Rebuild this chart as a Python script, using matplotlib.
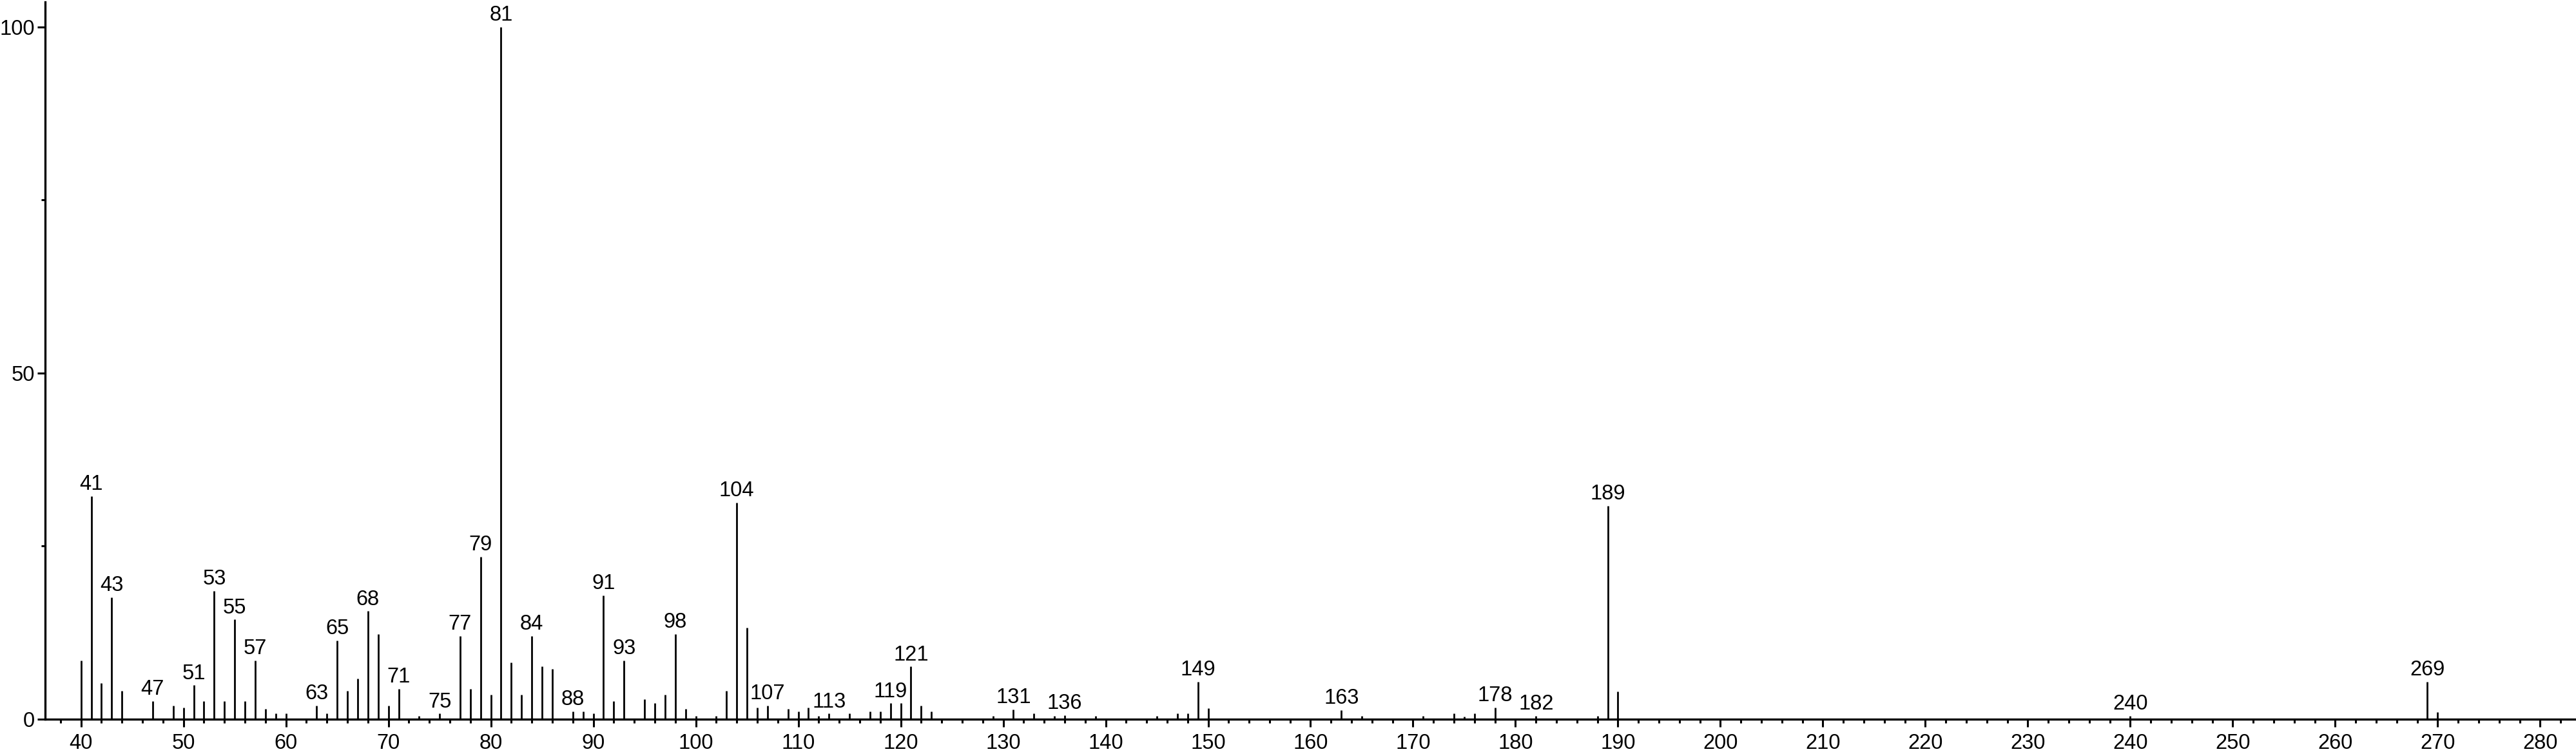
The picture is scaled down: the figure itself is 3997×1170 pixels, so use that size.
import matplotlib
matplotlib.use("Agg")
import matplotlib.pyplot as plt
from matplotlib.ticker import MultipleLocator

plt.rcParams['font.family'] = ['Liberation Sans', 'DejaVu Sans']

mz = [40, 41, 42, 43, 44, 47, 49, 50, 51, 52, 53, 54, 55, 56, 57, 58, 59, 60,
      63, 64, 65, 66, 67, 68, 69, 70, 71, 73, 75, 77, 78, 79, 80, 81, 82, 83,
      84, 85, 86, 88, 89, 90, 91, 92, 93, 95, 96, 97, 98, 99, 100, 102, 103,
      104, 105, 106, 107, 109, 110, 111, 112, 113, 115, 117, 118, 119, 120,
      121, 122, 123, 129, 131, 133, 135, 136, 139, 145, 147, 148, 149, 150,
      163, 165, 171, 174, 175, 176, 178, 182, 188, 189, 190, 240, 269, 270]
intensity = [8.5, 32.2, 5.2, 17.6, 4.1, 2.6, 2.0, 1.7, 4.9, 2.6, 18.5, 2.6,
             14.4, 2.6, 8.5, 1.5, 0.8, 0.8, 2.0, 0.8, 11.4, 4.1, 5.9, 15.6,
             12.3, 2.0, 4.4, 0.5, 0.8, 12.0, 4.4, 23.5, 3.5, 100.0, 8.2, 3.5,
             12.0, 7.6, 7.3, 1.1, 1.1, 0.8, 17.9, 2.6, 8.5, 2.9, 2.3, 3.5, 12.3,
             1.5, 0.5, 0.5, 4.1, 31.3, 13.2, 1.7, 2.0, 1.5, 1.1, 1.7, 0.5, 0.8,
             0.8, 1.1, 1.1, 2.3, 2.3, 7.6, 2.0, 1.1, 0.5, 1.4, 0.8, 0.5, 0.6,
             0.5, 0.5, 0.8, 0.8, 5.4, 1.6, 1.3, 0.5, 0.5, 0.8, 0.4, 0.8, 1.7,
             0.5, 0.5, 30.8, 4.0, 0.5, 5.4, 1.0]
labeled = [41, 43, 47, 51, 53, 55, 57, 63, 65, 68, 71, 75, 77, 79, 81, 84, 88,
           91, 93, 98, 104, 107, 113, 119, 121, 131, 136, 149, 163, 178, 182,
           189, 240, 269]
y_ticks = [0, 50, 100]

W, H = 3998, 1170
fig = plt.figure(figsize=(W / 100, H / 100), dpi=100)
ax = fig.add_axes([70 / W, 1 - 1116 / H, (W - 1 - 70) / W, (1116 - 3) / H])

ax.vlines(mz, 0, intensity, colors='black', linewidth=2.0, capstyle='butt')

inten_map = dict(zip(mz, intensity))
for m in labeled:
    ax.annotate(str(m), (m, inten_map[m]), xytext=(0, 2), textcoords='offset points',
                ha='center', va='bottom', fontsize=23.5, color='black')

ax.set_xlim(36.5, 283.5)
ax.set_ylim(0, 103.6)
for s in ['top', 'right']:
    ax.spines[s].set_visible(False)
for s in ['left', 'bottom']:
    ax.spines[s].set_linewidth(2.4)

ax.xaxis.set_major_locator(MultipleLocator(10))
ax.xaxis.set_minor_locator(MultipleLocator(2))
ax.set_yticks(y_ticks)
ax.yaxis.set_minor_locator(MultipleLocator(25))
ax.tick_params(axis='both', which='major', length=8.6, width=2.2, labelsize=23.5,
               direction='out', color='black')
ax.tick_params(axis='both', which='minor', length=4.3, width=2.2, direction='out')
ax.tick_params(axis='x', which='major', pad=7)
ax.tick_params(axis='y', which='major', pad=3)
ax.set_xticks(range(40, 281, 10))

fig.savefig('out.png', dpi=100)
